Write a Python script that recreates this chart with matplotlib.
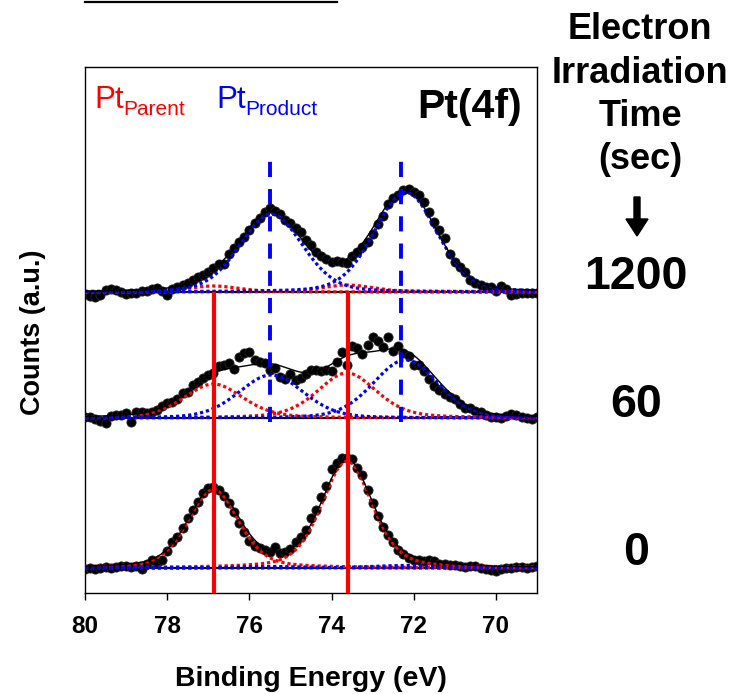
import numpy as np
import matplotlib
matplotlib.use("Agg")
import matplotlib.pyplot as plt
from matplotlib.lines import Line2D
from matplotlib.patches import FancyArrow
from matplotlib.transforms import IdentityTransform

plt.rcParams['font.family'] = ['Liberation Sans', 'DejaVu Sans']

# ---------------- data ----------------
# binding-energy grid of the measured points (eV), 0.125 eV steps from 80 to 69
energy = np.round(80.0 - 0.125 * np.arange(89), 3)

# measured counts (a.u., above each spectrum's own baseline)
counts_0s = [-1, 0, -0.5, 0.5, 1, 0.5, 1.5, 2, 2.5, 1.5, 2,
             -1, 4, 8, 5, 8, 17, 26, 31, 40, 50,
             58, 66, 75, 80, 81, 78, 72, 65, 56, 45,
             36, 27, 22, 20, 18, 16, 21, 15, 16, 19,
             26, 31, 38, 50, 58, 71, 82, 99, 105, 110,
             110, 109, 100, 93, 78, 65, 52, 41, 33, 26,
             18, 14, 10, 8, 8, 7, 8, 7, 4, 4,
             3, 3, 2, 1, 2, 2, 0, -1, -2, -3,
             -1, 0, 0, 1, 1, 0, 1, 2]
counts_60s = [1, 1, -1, -3, -5, 2, 3, 3.5, 5, -4, 6,
              6, 5, 6, 8, 12, 15, 16, 19, 25, 26,
              33, 36, 40, 43, 45, 52, 53, 55, 49, 61,
              65, 66, 58, 56, 55, 48, 50, 41, 39, 44,
              38, 40, 44, 48, 48, 47, 48, 47, 56, 66,
              53, 72, 70, 64, 73, 81, 77, 71, 81, 67,
              72, 65, 62, 53, 53, 47, 39, 32, 28, 24,
              21, 19, 14, 10, 10, 7, 6, 3, 1, 1,
              0, 2, 4, 3, 1, 0, -1, 1]
counts_1200s = [-2, -4, -5, -3, 2, 3, 2, 0, -2, -1, -1,
                1, 1, 3, 4, 1, -3, 3, 5, 7, 9,
                12, 15, 17, 20, 24, 28, 28, 38, 44, 50,
                55, 62, 69, 74, 80, 84, 81, 78, 72, 69,
                64, 60, 52, 47, 40, 36, 33, 30, 31, 30,
                29, 36, 40, 45, 50, 58, 68, 76, 88, 94,
                97, 102, 103, 100, 97, 90, 80, 70, 62, 54,
                38, 30, 25, 20, 12, 9, 7, 5, 5, 1,
                6, 3, -3, -2, -1, -1, -1, -1]

spectra_labels = ['0', '60', '1200']
spectra_offsets = [25, 175, 301]

# fitted components: Pt parent (4f5/2, 4f7/2), Pt product (4f5/2, 4f7/2)
peak_centers = [76.875, 73.625, 75.47, 72.2]
peak_kind = ['parent', 'parent', 'product', 'product']
peak_heights_0s = [79, 107, 1.5, 2.5]
peak_heights_60s = [34, 45, 43, 58]
peak_heights_1200s = [6, 7, 78, 100]
peak_fwhm_0s = [1.45, 1.45, 2.0, 2.0]
peak_fwhm_60s = [1.7, 1.7, 1.85, 1.85]
peak_fwhm_1200s = [1.5, 1.5, 1.8, 1.8]
lorentz_fraction = [0.35, 0.35, 0.2, 0.2]

parent_marker_lines = [76.85, 73.6]
product_marker_lines = [75.5, 72.3]

xticks = [80, 78, 76, 74, 72, 70]

# ---------------- figure ----------------
W, H = 748, 694
fig = plt.figure(figsize=(W / 100, H / 100), dpi=100)
ax = fig.add_axes([85 / W, 1 - 593 / H, (537 - 85) / W, (593 - 67) / H])

def fx(x):
    return x / W

def fy(y):
    return 1 - y / H

def pseudo_voigt(e, c, h, w, eta):
    r2 = (2.0 * (e - c) / w) ** 2
    return h * ((1 - eta) * np.exp(-np.log(2) * r2) + eta / (1 + r2))

e_fine = np.linspace(80, 69, 500)
comp_colors = {'parent': '#ff0000', 'product': '#0000ff'}

all_counts = [counts_0s, counts_60s, counts_1200s]
all_heights = [peak_heights_0s, peak_heights_60s, peak_heights_1200s]
all_fwhm = [peak_fwhm_0s, peak_fwhm_60s, peak_fwhm_1200s]

for counts, heights, fwhms, off in zip(all_counts, all_heights, all_fwhm, spectra_offsets):
    ax.plot([80, 69], [off, off], color='black', lw=1.6, zorder=2)
    ax.plot(energy, np.asarray(counts) + off, 'o', color='black', ms=6.6,
            mec='#222222', mew=0.6, zorder=3)
    total = np.zeros_like(e_fine)
    for c, h, w, eta, kind in zip(peak_centers, heights, fwhms, lorentz_fraction, peak_kind):
        comp = pseudo_voigt(e_fine, c, h, w, eta)
        total += comp
        ax.plot(e_fine, comp + off, color=comp_colors[kind], lw=2.3,
                linestyle=(0, (1, 0.9)), zorder=4)
    ax.plot(e_fine, total + off, color='black', lw=1.0, zorder=5)

ax.vlines(parent_marker_lines, 0, spectra_offsets[2], colors='#ff0000', lw=3.0, zorder=6)
ax.vlines(product_marker_lines, 171, 438, colors='#0000ff', lw=2.8,
          linestyles=[(0, (3.9, 3.1))], zorder=6)

ax.set_xlim(80, 69)
ax.set_ylim(0, 526)
ax.set_yticks([])
ax.set_xticks(xticks)
ax.set_xticklabels([str(t) for t in xticks], fontsize=17.5, fontweight='bold')
ax.tick_params(axis='x', direction='out', length=5, width=1, pad=11)
for s in ax.spines.values():
    s.set_linewidth(1.0)
    s.set_color('black')
ax.set_xlabel('Binding Energy (eV)', fontsize=20.5, fontweight='bold', labelpad=20)

fig.text(fx(33), fy(332), 'Counts (a.u.)', rotation=90, ha='center', va='center',
         fontsize=19.5, fontweight='bold')

# legend-like labels inside the axes
fig.text(fx(94), fy(108), 'Pt', color='#ff0000', fontsize=22.5, va='baseline', ha='left')
fig.text(fx(123.5), fy(115), 'Parent', color='#ff0000', fontsize=15, va='baseline', ha='left')
fig.text(fx(216), fy(108), 'Pt', color='#0000ff', fontsize=22.5, va='baseline', ha='left')
fig.text(fx(245.5), fy(115), 'Product', color='#0000ff', fontsize=15, va='baseline', ha='left')
fig.text(fx(522), fy(118), 'Pt(4f)', fontsize=29.5, fontweight='bold', va='baseline', ha='right')

# right-hand annotations
for txt, yb in zip(['Electron', 'Irradiation', 'Time', '(sec)'], [39, 83, 126, 169]):
    fig.text(fx(640), fy(yb), txt, fontsize=26, fontweight='bold', ha='center', va='baseline')
for txt, yb in zip(spectra_labels[::-1], [289, 417, 565]):
    fig.text(fx(636), fy(yb), txt, fontsize=33.5, fontweight='bold', ha='center', va='baseline')

arrow = FancyArrow(637, H - 197, 0, -39, width=6, head_width=22, head_length=17,
                   length_includes_head=True, color='black', transform=IdentityTransform())
fig.add_artist(arrow)

fig.add_artist(Line2D([fx(85), fx(337)], [fy(1.5), fy(1.5)], transform=fig.transFigure,
                      color='black', lw=1.6))

fig.savefig('out.png', dpi=100)
